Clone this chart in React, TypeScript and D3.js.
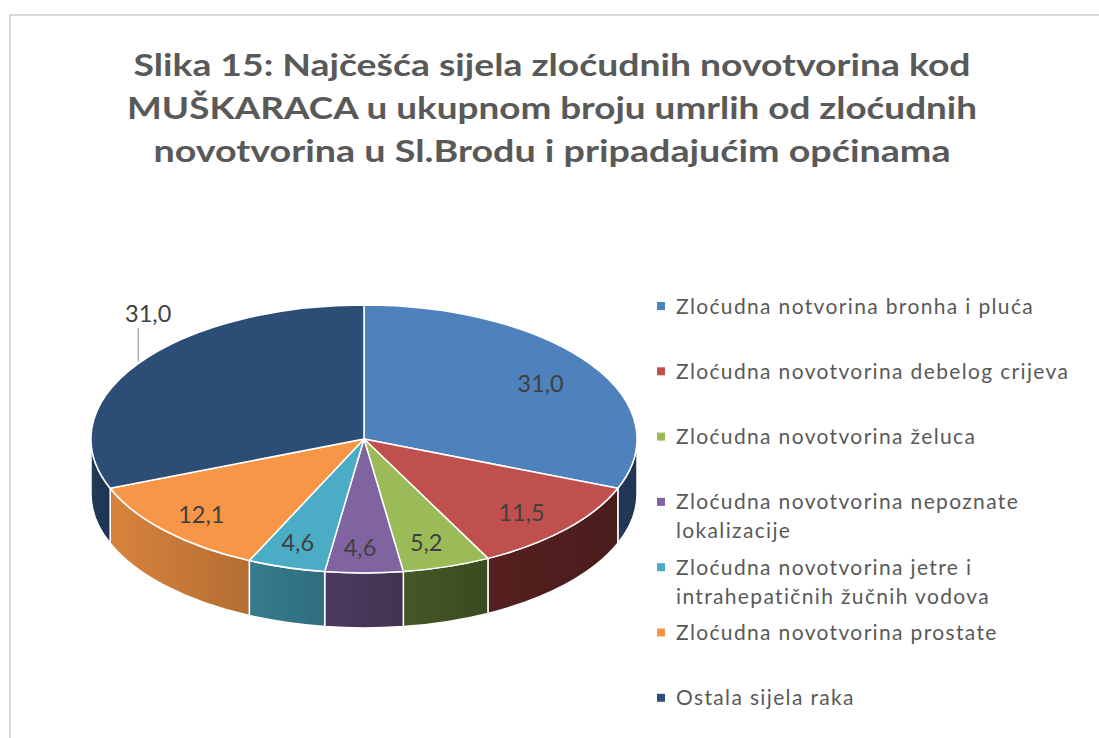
import React from "react";
import * as d3 from "d3";

const categories = [
  "Zloćudna notvorina bronha i pluća",
  "Zloćudna novotvorina debelog crijeva",
  "Zloćudna novotvorina želuca",
  "Zloćudna novotvorina nepoznate\nlokalizacije",
  "Zloćudna novotvorina jetre i\nintrahepatičnih žučnih vodova",
  "Zloćudna novotvorina prostate",
  "Ostala sijela raka",
];
const values = [31.0, 11.5, 5.2, 4.6, 4.6, 12.1, 31.0];
const titleLines = [
  "Slika 15: Najčešća sijela zloćudnih novotvorina kod",
  "MUŠKARACA u ukupnom broju umrlih od zloćudnih",
  "novotvorina u Sl.Brodu i pripadajućim općinama",
];
const titleWidths = [837, 850, 797];

const topColors = ["#4F81BD", "#C0504D", "#9BBB59", "#8064A2", "#4BACC6", "#F79646", "#2C4D75"];
const sideColors: [string, string][] = [
  ["#23395a", "#1f3450"],
  ["#561f1f", "#4a1c1c"],
  ["#465826", "#3c4a20"],
  ["#4b3b62", "#41334f"],
  ["#367c8f", "#2f6d7e"],
  ["#d8833d", "#b46d32"],
  ["#22395a", "#1e3350"],
];

const W = 1099;
const H = 738;
const cx = 364;
const cy = 439;
const rx = 273;
const ry = 134;
const depth = 55;
const FONT = "Lato, 'Open Sans', sans-serif";

const px = (t: number) => cx + rx * Math.sin(t);
const py = (t: number) => cy - ry * Math.cos(t);
const fmt = (v: number) => v.toFixed(1).replace(".", ",");

export default function App() {
  const arcs = d3
    .pie<number>()
    .sort(null)
    .startAngle(0)
    .endAngle(2 * Math.PI)(values);

  const sides = arcs.map((a, i) => {
    const s = Math.max(a.startAngle, Math.PI / 2);
    const e = Math.min(a.endAngle, (3 * Math.PI) / 2);
    if (s >= e) return null;
    const d = `M${px(s)},${py(s)} A${rx},${ry} 0 0 1 ${px(e)},${py(e)} L${px(e)},${py(e) + depth} A${rx},${ry} 0 0 0 ${px(s)},${py(s) + depth} Z`;
    // e is left of s on the front half; light on the left side
    return { d, i, xl: Math.min(px(s), px(e)), xr: Math.max(px(s), px(e)) };
  });

  const tops = arcs.map((a, i) => {
    const large = a.endAngle - a.startAngle > Math.PI ? 1 : 0;
    const d = `M${cx},${cy} L${px(a.startAngle)},${py(a.startAngle)} A${rx},${ry} 0 ${large} 1 ${px(a.endAngle)},${py(a.endAngle)} Z`;
    return { d, i };
  });

  const legendX = 657;
  const legendY0 = 306;
  const legendStep = 65.3;

  return (
    <svg
      width={W}
      height={H}
      style={{ position: "absolute", left: 0, top: 0, background: "#fff" }}
      xmlns="http://www.w3.org/2000/svg"
    >
      <defs>
        {sides.map((s) =>
          s ? (
            <linearGradient
              key={s.i}
              id={`sg${s.i}`}
              gradientUnits="userSpaceOnUse"
              x1={s.xl}
              x2={s.xr}
              y1={0}
              y2={0}
            >
              <stop offset="0" stopColor={sideColors[s.i][0]} />
              <stop offset="1" stopColor={sideColors[s.i][1]} />
            </linearGradient>
          ) : null
        )}
      </defs>
      <rect x={0} y={0} width={W} height={H} fill="#fff" />
      <line x1={9} y1={15} x2={W} y2={15} stroke="#d9d9d9" strokeWidth={2} />
      <line x1={10} y1={14} x2={10} y2={H} stroke="#d9d9d9" strokeWidth={2} />

      {titleLines.map((t, i) => (
        <text
          key={i}
          x={552}
          y={76 + i * 43}
          textAnchor="middle"
          fontFamily={FONT}
          fontWeight="bold"
          fontSize={31}
          fill="#595959"
          textLength={titleWidths[i]}
          lengthAdjust="spacingAndGlyphs"
        >
          {t}
        </text>
      ))}

      {sides.map((s) =>
        s ? (
          <path key={s.i} d={s.d} fill={`url(#sg${s.i})`} stroke="#fff" strokeWidth={1.5} strokeLinejoin="round" />
        ) : null
      )}
      {tops.map((t) => (
        <path key={t.i} d={t.d} fill={topColors[t.i]} stroke="#fff" strokeWidth={1.5} strokeLinejoin="round" />
      ))}

      {arcs.map((a, i) => {
        const mid = (a.startAngle + a.endAngle) / 2;
        if (i === values.length - 1) {
          const ex = px(mid);
          const ey = py(mid);
          return (
            <g key={i}>
              <line x1={ex} y1={ey - 2} x2={ex} y2={ey - 36} stroke="#a6a6a6" strokeWidth={1.3} />
              <text x={ex + 10} y={ey - 42} textAnchor="middle" fontFamily={FONT} fontSize={23.5} fill="#404040">
                {fmt(values[i])}
              </text>
            </g>
          );
        }
        const lx = cx + rx * 0.8 * Math.sin(mid) - 4;
        const ly = cy - ry * 0.78 * Math.cos(mid) + 3;
        return (
          <text
            key={i}
            x={lx}
            y={ly}
            textAnchor="middle"
            dominantBaseline="central"
            fontFamily={FONT}
            fontSize={23.5}
            fill="#404040"
          >
            {fmt(values[i])}
          </text>
        );
      })}

      {categories.map((c, i) => {
        const yc = legendY0 + i * legendStep;
        const lines = c.split("\n");
        return (
          <g key={i}>
            <rect x={legendX} y={yc - 4} width={8} height={8} fill={topColors[i]} />
            {lines.map((l, j) => (
              <text
                key={j}
                x={676}
                y={yc + 7.5 + j * 29}
                fontFamily={FONT}
                fontSize={21}
                letterSpacing={1.35}
                fill="#595959"
              >
                {l}
              </text>
            ))}
          </g>
        );
      })}
    </svg>
  );
}
